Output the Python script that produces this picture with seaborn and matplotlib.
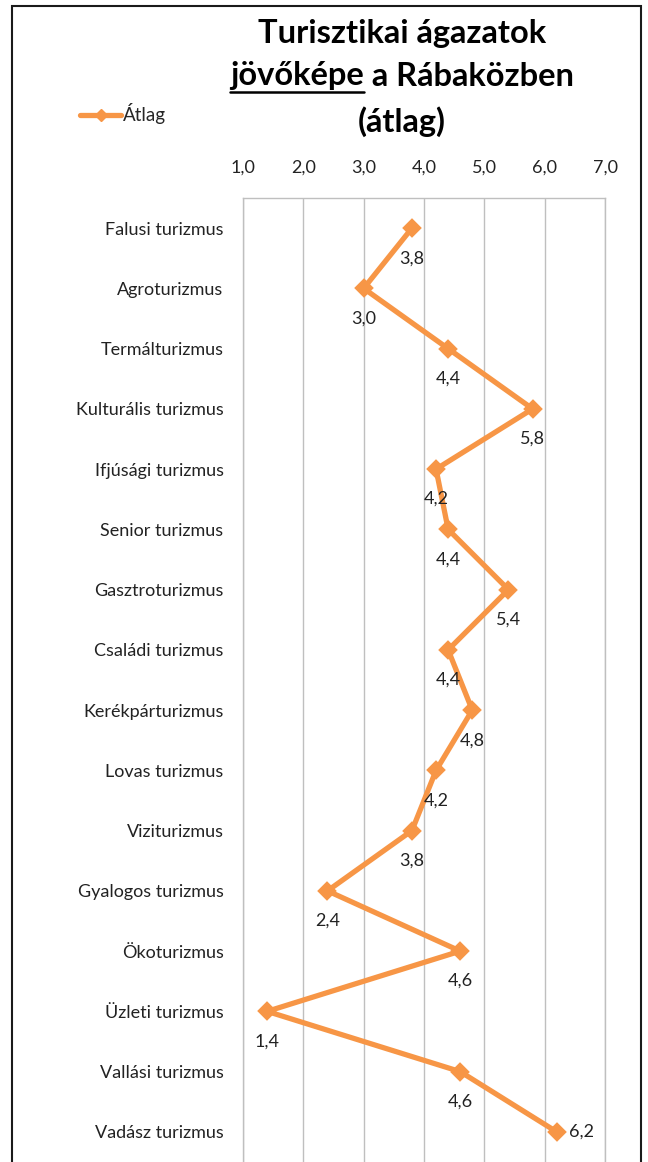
import matplotlib
matplotlib.use("Agg")
import matplotlib.pyplot as plt
import seaborn as sns
import pandas as pd
from matplotlib.lines import Line2D
from matplotlib.patches import Rectangle
from matplotlib.ticker import FuncFormatter

# data
categories = ["Falusi turizmus", "Agroturizmus", "Termálturizmus", "Kulturális turizmus",
              "Ifjúsági turizmus", "Senior turizmus", "Gasztroturizmus", "Családi turizmus",
              "Kerékpárturizmus", "Lovas turizmus", "Viziturizmus", "Gyalogos turizmus",
              "Ökoturizmus", "Üzleti turizmus", "Vallási turizmus", "Vadász turizmus"]
atlag = [3.8, 3.0, 4.4, 5.8, 4.2, 4.4, 5.4, 4.4, 4.8, 4.2, 3.8, 2.4, 4.6, 1.4, 4.6, 6.2]
x_ticks = [1, 2, 3, 4, 5, 6, 7]

df = pd.DataFrame({"Ágazat": categories, "Átlag": atlag})

sns.set_theme(style="white")
plt.rcParams["font.family"] = ["Lato", "DejaVu Sans"]

orange = "#F79646"
W, H = 648, 1162
fig = plt.figure(figsize=(W / 100, H / 100), dpi=100)
ax = fig.add_axes([243 / W, 0, (605 - 243) / W, (H - 198) / H])

sns.pointplot(data=df, x="Átlag", y="Ágazat", orient="h", color=orange,
              markers="D", markersize=7, linewidth=3.8, errorbar=None, ax=ax)

ax.set_xlim(1, 7)
ax.set_ylim(15.5, -0.5)
ax.set_xticks(x_ticks)
ax.xaxis.set_major_formatter(FuncFormatter(lambda v, p: f"{v:.1f}".replace(".", ",")))
ax.xaxis.tick_top()
ax.tick_params(axis="x", length=0, pad=16, labelsize=13, colors="#222222")
ax.tick_params(axis="y", length=0, pad=14, labelsize=13, colors="#222222")
ax.set_xlabel("")
ax.set_ylabel("")
ax.grid(axis="x", color="#BFBFBF", linewidth=1)
for s in ["left", "top", "right"]:
    ax.spines[s].set_visible(True)
    ax.spines[s].set_color("#BFBFBF")
    ax.spines[s].set_linewidth(1)
ax.spines["bottom"].set_visible(False)

# data labels below the markers, last one to the right
for i, v in enumerate(atlag):
    txt = f"{v:.1f}".replace(".", ",")
    if i == len(atlag) - 1:
        ax.annotate(txt, (v, i), xytext=(12, 0), textcoords="offset pixels",
                    ha="left", va="center", fontsize=13, color="#222222")
    else:
        ax.annotate(txt, (v, i), xytext=(0, -30), textcoords="offset pixels",
                    ha="center", va="center", fontsize=13, color="#222222")

# legend
h = Line2D([], [], color=orange, lw=3.8, marker="D", markersize=6)
fig.legend(handles=[h], labels=["Átlag"], loc="center left", frameon=False,
           bbox_to_anchor=(63 / W, 1 - 114 / H), handlelength=2.2, handletextpad=0.1,
           fontsize=13.5)

# title, second word underlined
tkw = dict(fontsize=23.5, fontweight="bold", color="black", va="center")
cx = 402 / W
fig.text(cx, 1 - 33 / H, "Turisztikai ágazatok", ha="center", **tkw)
fig.text(cx, 1 - 122 / H, "(átlag)", ha="center", **tkw)
t1 = fig.text(0, 1 - 76 / H, "jövőképe", ha="left", **tkw)
t2 = fig.text(0, 1 - 76 / H, " a Rábaközben", ha="left", **tkw)
fig.canvas.draw()
r = fig.canvas.get_renderer()
b1 = t1.get_window_extent(r)
b2 = t2.get_window_extent(r)
x0 = cx * W - (b1.width + b2.width) / 2
t1.set_x(x0 / W)
t2.set_x((x0 + b1.width) / W)
uy = (1 - 76 / H) - 16 / H
fig.add_artist(Line2D([x0 / W, (x0 + b1.width) / W], [uy, uy], color="black", lw=1.8,
                      transform=fig.transFigure))

# outer chart frame
fig.add_artist(Rectangle((12 / W, -0.01), (641 - 12) / W, 1.01 - 6 / H, fill=False,
                         edgecolor="#1a1a1a", lw=1.5, transform=fig.transFigure))

fig.savefig("out.png", dpi=100, facecolor="white")
